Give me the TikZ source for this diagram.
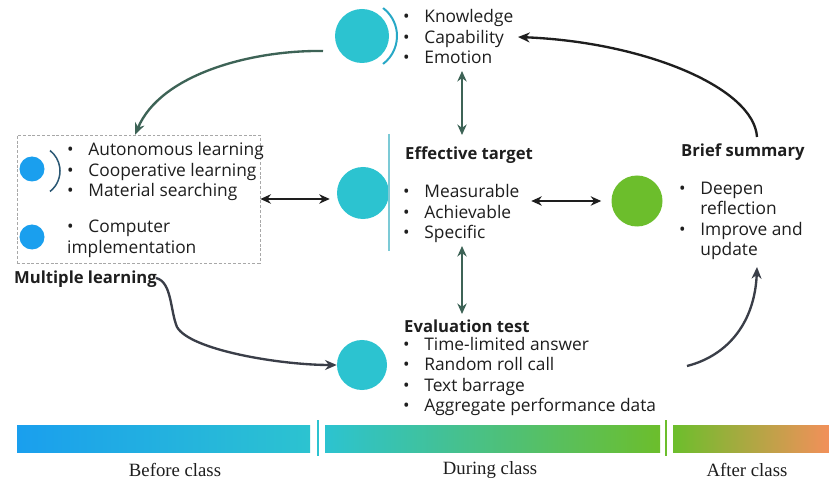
\documentclass[tikz,border=0pt]{standalone}
\usepackage{fontspec}
\newfontfamily\uifont{Open Sans}
\newfontfamily\capfont{Liberation Serif}
\usetikzlibrary{arrows.meta}
\definecolor{teal1}{HTML}{2CC3D0}
\definecolor{sky}{HTML}{1A9FEE}
\definecolor{leaf}{HTML}{6CBE2C}
\definecolor{pine}{HTML}{3D6356}
\definecolor{ink}{HTML}{1E1E1E}
\definecolor{slate}{HTML}{3A3E48}
\definecolor{rim}{HTML}{27A8C6}
\definecolor{navy}{HTML}{2B5874}
\definecolor{paleteal}{HTML}{7CCAD6}
\definecolor{dashgray}{HTML}{A8A8A8}
\definecolor{amber}{HTML}{F2905A}
\newcommand\blist[1]{\begin{tabular}{@{}l@{\hspace{12.5pt}}l@{}}#1\end{tabular}}
\begin{document}
\begin{tikzpicture}[x=0.03cm,y=-0.03cm,
  txt/.style={font=\uifont\fontsize{14.8}{17.4}\selectfont, inner sep=0pt, anchor=west, align=left, text=ink},
  ttl/.style={txt, font=\uifont\bfseries\fontsize{14.2}{17}\selectfont},
  phase/.style={font=\capfont\fontsize{16}{19}\selectfont, inner sep=0pt, text=ink},
  disc/.style={circle, fill=#1, draw=none, inner sep=0pt},
  dbl/.style={{Stealth[length=9pt,width=8pt]}-{Stealth[length=9pt,width=8pt]}, line width=1.7pt, draw=ink},
  vdbl/.style={{Stealth[length=9pt,width=8pt]}-{Stealth[length=9pt,width=8pt]}, line width=1.8pt, draw=pine},
  flow/.style={-{Stealth[length=10pt,width=8.5pt]}, line width=2pt, draw=#1},
  divider/.style={line width=1.8pt, draw=#1},
]
\fill[white] (0,0) rectangle (829,482);
\useasboundingbox (0,0) rectangle (829,482);

% circles
\node[disc=teal1, minimum size=1.62cm] (top) at (362,36) {};
\node[disc=teal1, minimum size=1.56cm] (ctr) at (363,193) {};
\node[disc=teal1, minimum size=1.50cm] (eval) at (362,365) {};
\node[disc=leaf, minimum size=1.53cm] (green) at (637,201) {};
\node[disc=sky, minimum size=0.75cm] (b1) at (32,169) {};
\node[disc=sky, minimum size=0.75cm] (b2) at (32,237) {};

% rims beside the circles
\draw[rim, line width=1.7pt] (top.center) ++(53:35) arc[start angle=53, end angle=-53, radius=35];
\draw[navy, line width=1.3pt] (34,171) ++(52:26) arc[start angle=52, end angle=-52, radius=26];

% divider next to the centre circle
\draw[paleteal, line width=1.3pt] (389,134) -- (389,251);

% dashed box of the learning activities
\node[draw=dashgray, dash pattern=on 2.5pt off 1.6pt, line width=0.6pt, minimum width=7.29cm, minimum height=3.84cm, inner sep=0pt] (lbox) at (138.5,199) {};

% text blocks
\node[txt] (kbul) at (403,39) {\blist{\textbullet & Knowledge\\ \textbullet & Capability\\ \textbullet & Emotion}};
\node[txt] (lbul) at (67,172) {\blist{\textbullet & Autonomous learning\\ \textbullet & Cooperative learning\\ \textbullet & Material searching}};
\node[txt] (cbul) at (67,239) {\blist{\textbullet & Computer\\ \multicolumn{2}{@{}l@{}}{implementation}}};
\node[ttl] (mlt) at (14,279) {Multiple learning};
\node[ttl] (ettl) at (405,155) {Effective target};
\node[txt] (tbul) at (403,214) {\blist{\textbullet & Measurable\\ \textbullet & Achievable\\ \textbullet & Specific}};
\node[ttl] (sttl) at (681,152) {Brief summary};
\node[txt] (sbul) at (679,221) {\blist{\textbullet & Deepen\\ & reflection\\ \textbullet & Improve and\\ & update}};
\node[ttl] (vttl) at (404,326) {Evaluation test};
\node[txt] (vbul) at (403,377) {\blist{\textbullet & Time-limited answer\\ \textbullet & Random roll call\\ \textbullet & Text barrage\\ \textbullet & Aggregate performance data}};

% two-way links
\draw[dbl] (lbox.east) -- ([xshift=-0.21cm]lbox.east -| ctr.west);
\draw[dbl] ([xshift=-0.3cm]green.west) -- ([xshift=-2.4cm]green.west);
\coordinate (va) at (462,71);
\coordinate (vb) at (462,135);
\coordinate (vc) at (462,246);
\coordinate (vd) at (462,314);
\draw[vdbl] (va) -- (vb);
\draw[vdbl] (vc) -- (vd);

% cycle arrows
\coordinate (s1) at (323,51);
\draw[flow=pine] (s1) .. controls (250,50) and (160,75) .. ([xshift=-0.1cm]lbox.north);
\coordinate (s2) at (757,137);
\coordinate (e2) at (518,37);
\draw[flow=ink] (s2) .. controls (754,88) and (645,42) .. (e2);
\coordinate (s3) at (156,278);
\coordinate (m3) at (177,327);
\draw[flow=slate] (s3) .. controls (172,282) and (170,310) .. (m3) .. controls (190,350) and (280,365) .. (eval.west);
\coordinate (s4) at (687,366);
\coordinate (e4) at (757,267);
\draw[flow=slate] (s4) .. controls (730,355) and (755,320) .. (e4);

% timeline bar
\shade[left color=sky, right color=teal1] (17,425) rectangle (310,452);
\shade[left color=teal1, right color=leaf] (325,425) rectangle (660,452);
\shade[left color=leaf, right color=amber] (673,425) rectangle (829,452);
\draw[divider=teal1] (318,420) -- (318,456);
\draw[divider=leaf] (666,420) -- (666,456);
\node[phase] (before) at (175,470) {Before class};
\node[phase] (during) at (490,470) {During class};
\node[phase] (after) at (747,470) {After class};
\end{tikzpicture}
\end{document}
